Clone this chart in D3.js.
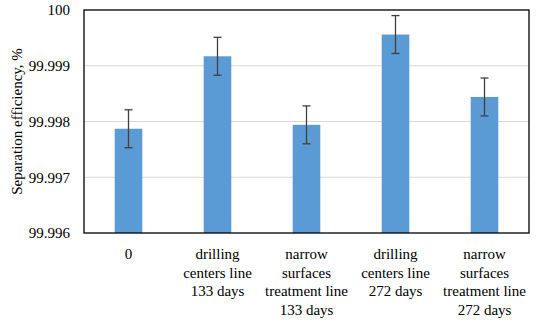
<!DOCTYPE html>
<html>
<head>
<meta charset="utf-8">
<script src="https://cdn.jsdelivr.net/npm/d3@7"></script>
<style>
  body { margin: 0; background: #fff; }
  text { font-family: "Palatino Linotype", "Book Antiqua", Palatino, "Liberation Serif", serif; fill: #000; }
</style>
</head>
<body>
<div id="chart"></div>
<script>
var categories = [
  ["0"],
  ["drilling", "centers line", "133 days"],
  ["narrow", "surfaces", "treatment line", "133 days"],
  ["drilling", "centers line", "272 days"],
  ["narrow", "surfaces", "treatment line", "272 days"]
];
var values = [99.99787, 99.99917, 99.99794, 99.99956, 99.99844];
var errors = [0.00034, 0.00034, 0.00034, 0.00034, 0.00034];
var yTicks = [99.996, 99.997, 99.998, 99.999, 100];

var svgWidth = 550;
var svgHeight = 323;
var margin = { top: 10, right: 21, bottom: 90, left: 84 };
var chartWidth = svgWidth - margin.left - margin.right;
var chartHeight = svgHeight - margin.top - margin.bottom;

var svg = d3.select("#chart").append("svg").attr("width", svgWidth).attr("height", svgHeight);
var chartGroup = svg.append("g").attr("transform", `translate(${margin.left}, ${margin.top})`);

var xScale = d3.scaleBand().domain(d3.range(values.length)).range([0, chartWidth]).paddingInner(0.69).paddingOuter(0.345);
var yScale = d3.scaleLinear().domain([99.996, 100]).range([chartHeight, 0]);

// gridlines
chartGroup.selectAll(".grid").data(yTicks.slice(1, -1)).enter()
  .append("line")
  .attr("x1", 0).attr("x2", chartWidth)
  .attr("y1", d => yScale(d)).attr("y2", d => yScale(d))
  .attr("stroke", "#d9d9d9").attr("stroke-width", 1);

// bars
chartGroup.selectAll(".bar").data(values).enter()
  .append("rect")
  .attr("x", (d, i) => xScale(i))
  .attr("width", xScale.bandwidth())
  .attr("y", d => yScale(d))
  .attr("height", d => chartHeight - yScale(d))
  .attr("fill", "#5b9bd5");

// error bars
var errGroup = chartGroup.selectAll(".err").data(values).enter().append("g")
  .attr("stroke", "#404040").attr("stroke-width", 1.3);
errGroup.append("line")
  .attr("x1", (d, i) => xScale(i) + xScale.bandwidth() / 2)
  .attr("x2", (d, i) => xScale(i) + xScale.bandwidth() / 2)
  .attr("y1", (d, i) => yScale(d + errors[i]))
  .attr("y2", (d, i) => yScale(d - errors[i]));
[1, -1].forEach(function(s) {
  errGroup.append("line")
    .attr("x1", (d, i) => xScale(i) + xScale.bandwidth() / 2 - 4)
    .attr("x2", (d, i) => xScale(i) + xScale.bandwidth() / 2 + 4)
    .attr("y1", (d, i) => yScale(d + s * errors[i]))
    .attr("y2", (d, i) => yScale(d + s * errors[i]));
});

// frame
chartGroup.append("rect")
  .attr("width", chartWidth).attr("height", chartHeight)
  .attr("fill", "none").attr("stroke", "#000").attr("stroke-width", 1.3);

// y axis
var leftAxis = d3.axisLeft(yScale).tickValues(yTicks).tickSize(0).tickPadding(14).tickFormat(d => d3.format("")(+d.toFixed(3)));
var yAxisG = chartGroup.append("g").call(leftAxis);
yAxisG.select(".domain").remove();
yAxisG.selectAll("text").style("font-size", "15px").attr("fill", "#000");

// x labels
var xLabels = chartGroup.selectAll(".xlab").data(categories).enter()
  .append("text")
  .attr("text-anchor", "middle")
  .style("font-size", "15px")
  .attr("transform", (d, i) => `translate(${xScale(i) + xScale.bandwidth() / 2}, ${chartHeight + 26})`);
xLabels.selectAll("tspan").data(d => d).enter()
  .append("tspan")
  .attr("x", 0)
  .attr("y", (d, i) => i * 18.7)
  .text(d => d);

// y title
svg.append("text")
  .attr("text-anchor", "middle")
  .style("font-size", "15px")
  .attr("transform", `translate(22, ${margin.top + chartHeight / 2}) rotate(-90)`)
  .text("Separation efficiency, %");
</script>
</body>
</html>
